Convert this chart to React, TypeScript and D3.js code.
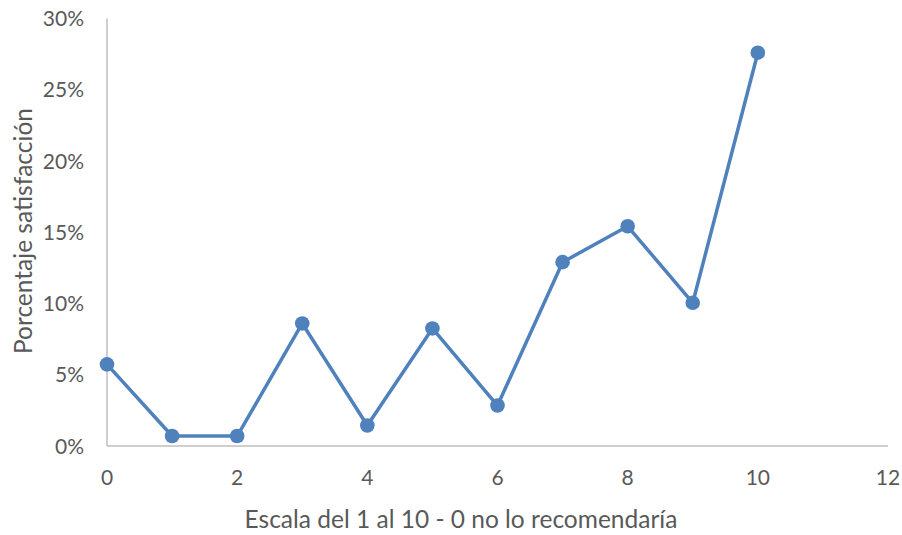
import React from "react";
import * as d3 from "d3";

// Satisfaction share (%) for each score on the 0–10 scale
const scores = [0, 1, 2, 3, 4, 5, 6, 7, 8, 9, 10];
const shares = [5.73, 0.7, 0.7, 8.6, 1.44, 8.25, 2.84, 12.9, 15.42, 10.05, 27.6];
const xTicks = [0, 2, 4, 6, 8, 10, 12];
const yTicks = [0, 5, 10, 15, 20, 25, 30];

const xTitle = "Escala del 1 al 10 - 0 no lo recomendaría";
const yTitle = "Porcentaje satisfacción";

const W = 902;
const H = 535;
const FONT = "Lato, 'Open Sans', sans-serif";
const TEXT = "#595959";
const AXIS = "#BFBFBF";
const LINE = "#4F81BD";

export default function App() {
  const x = d3.scaleLinear().domain([0, 12]).range([107, 888]);
  const y = d3.scaleLinear().domain([0, 30]).range([446, 18.5]);

  const data = scores.map((s, i) => ({ s, v: shares[i] }));
  const line = d3
    .line<{ s: number; v: number }>()
    .x((d) => x(d.s))
    .y((d) => y(d.v));

  return (
    <svg
      width={W}
      height={H}
      style={{ position: "absolute", left: 0, top: 0, background: "#fff" }}
      fontFamily={FONT}
    >
      {/* axes */}
      <line x1={x(0)} x2={x(0)} y1={y(30)} y2={y(0)} stroke={AXIS} strokeWidth={1.5} />
      <line x1={x(0)} x2={x(12)} y1={y(0)} y2={y(0)} stroke={AXIS} strokeWidth={1.5} />

      {/* y tick labels */}
      {yTicks.map((t) => (
        <text
          key={"y" + t}
          x={84}
          y={y(t)}
          dy="0.36em"
          textAnchor="end"
          fontSize={21}
          fill={TEXT}
        >
          {t + "%"}
        </text>
      ))}

      {/* x tick labels */}
      {xTicks.map((t) => (
        <text
          key={"x" + t}
          x={x(t)}
          y={485}
          textAnchor="middle"
          fontSize={21}
          fill={TEXT}
        >
          {t}
        </text>
      ))}

      {/* axis titles */}
      <text x={461} y={528} textAnchor="middle" fontSize={24.5} fill={TEXT}>
        {xTitle}
      </text>
      <text
        transform={`translate(31.5, 231) rotate(-90)`}
        textAnchor="middle"
        fontSize={24.5}
        fill={TEXT}
      >
        {yTitle}
      </text>

      {/* series */}
      <path
        d={line(data) || ""}
        fill="none"
        stroke={LINE}
        strokeWidth={3.5}
        strokeLinejoin="round"
      />
      {data.map((d) => (
        <circle key={d.s} cx={x(d.s)} cy={y(d.v)} r={7.3} fill={LINE} />
      ))}
    </svg>
  );
}
